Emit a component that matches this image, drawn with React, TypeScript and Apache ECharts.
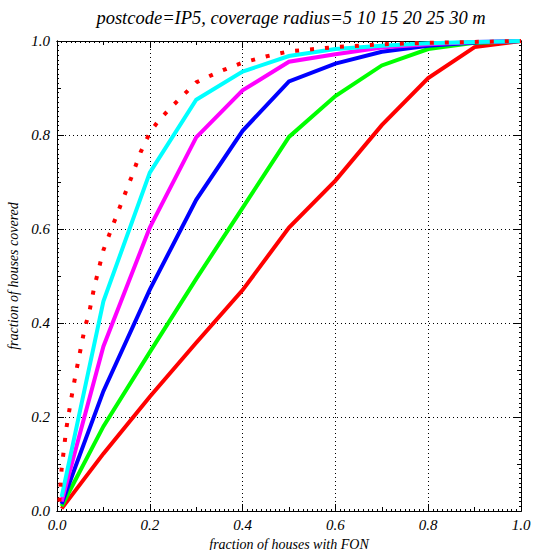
import React, { useEffect, useRef } from "react";
import * as echarts from "echarts";

const titleText = "postcode=IP5, coverage radius=5 10 15 20 25 30 m";
const xName = "fraction of houses with FON";
const yName = "fraction of houses covered";

const fon = [0.01, 0.1, 0.2, 0.3, 0.4, 0.5, 0.6, 0.7, 0.8, 0.9, 1.0];
const r5 = [0.005, 0.122, 0.243, 0.358, 0.47, 0.603, 0.703, 0.821, 0.921, 0.987, 1.0];
const r10 = [0.01, 0.18, 0.338, 0.494, 0.645, 0.796, 0.883, 0.948, 0.983, 0.996, 1.0];
const r15 = [0.015, 0.255, 0.471, 0.662, 0.809, 0.914, 0.952, 0.977, 0.99, 0.997, 1.0];
const r20 = [0.02, 0.35, 0.603, 0.795, 0.895, 0.956, 0.972, 0.986, 0.993, 0.998, 1.0];
const r25 = [0.03, 0.446, 0.72, 0.875, 0.935, 0.968, 0.983, 0.99, 0.995, 0.998, 1.0];

const fon30 = [0.005, 0.01, 0.02, 0.03, 0.04, 0.05, 0.06, 0.07, 0.08, 0.1, 0.12, 0.14, 0.16, 0.18, 0.2, 0.22, 0.25, 0.3, 0.35, 0.4, 0.45, 0.5, 0.6, 0.7, 0.8, 0.9, 1.0];
const r30 = [0.02, 0.09, 0.175, 0.235, 0.29, 0.34, 0.39, 0.425, 0.475, 0.555, 0.607, 0.658, 0.709, 0.763, 0.805, 0.832, 0.863, 0.912, 0.935, 0.954, 0.967, 0.978, 0.987, 0.993, 0.996, 0.998, 1.0];

const solidSeries = [
  { name: "5 m", values: r5, color: "#ff0000" },
  { name: "10 m", values: r10, color: "#00ff00" },
  { name: "15 m", values: r15, color: "#0000ff" },
  { name: "20 m", values: r20, color: "#ff00ff" },
  { name: "25 m", values: r25, color: "#00ffff" },
];

const FONT = "'Liberation Serif', 'DejaVu Serif', serif";

function makeAxis(kind: "x" | "y", position: string, opts: { labels: boolean; interval: number; tickLen: number; minor?: boolean; name?: string }) {
  const a: any = {
    type: "value",
    position,
    min: 0,
    max: 1,
    interval: opts.interval,
    axisLine: { show: true, onZero: false, lineStyle: { color: "#000", width: 1 } },
    axisTick: { show: true, inside: true, length: opts.tickLen, lineStyle: { color: "#000", width: 1 } },
    axisLabel: {
      show: opts.labels,
      fontFamily: FONT,
      fontStyle: "italic",
      fontSize: 15,
      color: "#000",
      margin: kind === "x" ? 6 : 7,
      formatter: (v: number) => v.toFixed(1),
    },
    splitLine: { show: false },
  };
  if (opts.minor) {
    a.minorTick = { show: true, splitNumber: 20, length: 2, lineStyle: { color: "#000", width: 1 } };
  }
  if (opts.name) {
    a.name = opts.name;
    a.nameLocation = "middle";
    a.nameGap = kind === "x" ? 26 : 33;
    a.nameTextStyle = { fontFamily: FONT, fontStyle: "italic", fontSize: 14, color: "#000" };
  }
  return a;
}

export default function App() {
  const ref = useRef<HTMLDivElement>(null);
  useEffect(() => {
    if (!ref.current) return;
    const chart = echarts.init(ref.current, null, { renderer: "svg" });

    const gridAxisX = makeAxis("x", "bottom", { labels: true, interval: 0.2, tickLen: 7, minor: true, name: xName });
    gridAxisX.splitLine = { show: true, lineStyle: { color: "#000", width: 1, type: [1, 3] } };
    const gridAxisY = makeAxis("y", "left", { labels: true, interval: 0.2, tickLen: 7, minor: true, name: yName });
    gridAxisY.splitLine = { show: true, lineStyle: { color: "#000", width: 1, type: [1, 3] } };

    const series: any[] = solidSeries.map((s) => ({
      name: s.name,
      type: "line",
      xAxisIndex: 0,
      yAxisIndex: 0,
      data: fon.map((x, i) => [x, s.values[i]]),
      showSymbol: false,
      symbol: "none",
      lineStyle: { color: s.color, width: 4, cap: "butt", join: "miter" },
      z: 3,
    }));
    series.push({
      name: "30 m",
      type: "line",
      xAxisIndex: 0,
      yAxisIndex: 0,
      data: fon30.map((x, i) => [x, r30[i]]),
      showSymbol: false,
      symbol: "none",
      lineStyle: { color: "#ff0000", width: 4, type: [4, 11], cap: "butt" },
      z: 4,
    });

    chart.setOption({
      animation: false,
      backgroundColor: "#fff",
      title: {
        text: titleText,
        left: 286,
        textAlign: "center",
        top: 3,
        textStyle: { fontFamily: FONT, fontStyle: "italic", fontWeight: "normal", fontSize: 18.5, color: "#000" },
      },
      grid: { left: 57, right: 13, top: 41, bottom: 39, containLabel: false, outerBoundsMode: "none" },
      xAxis: [
        gridAxisX,
        makeAxis("x", "bottom", { labels: false, interval: 0.1, tickLen: 4 }),
        makeAxis("x", "top", { labels: false, interval: 0.2, tickLen: 7, minor: true }),
        makeAxis("x", "top", { labels: false, interval: 0.1, tickLen: 4 }),
      ],
      yAxis: [
        gridAxisY,
        makeAxis("y", "left", { labels: false, interval: 0.1, tickLen: 4 }),
        makeAxis("y", "right", { labels: false, interval: 0.2, tickLen: 7, minor: true }),
        makeAxis("y", "right", { labels: false, interval: 0.1, tickLen: 4 }),
      ],
      series,
    });
    return () => chart.dispose();
  }, []);
  return (
    <div
      ref={ref}
      style={{ position: "fixed", left: 0, top: 0, width: 534, height: 550, background: "#fff" }}
    />
  );
}
